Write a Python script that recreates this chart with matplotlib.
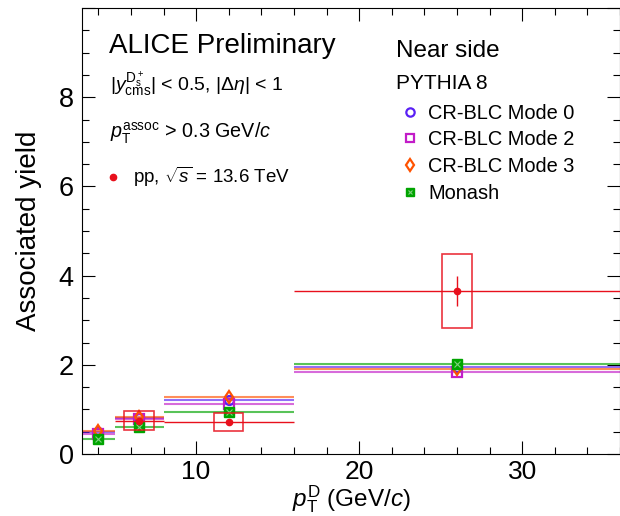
import numpy as np
import matplotlib.pyplot as plt
from matplotlib.patches import Rectangle
from matplotlib.ticker import MultipleLocator
from matplotlib.lines import Line2D

plt.rcParams['font.family'] = ['Liberation Sans', 'DejaVu Sans']
plt.rcParams['mathtext.fontset'] = 'custom'
plt.rcParams['mathtext.rm'] = 'Liberation Sans'
plt.rcParams['mathtext.it'] = 'Liberation Sans:italic'
plt.rcParams['mathtext.bf'] = 'Liberation Sans:bold'

# pT bins of the D meson (GeV/c)
pt_lo = np.array([3, 5, 8, 16])
pt_hi = np.array([5, 8, 16, 36])
pt_mid = (pt_lo + pt_hi) / 2
pt_err = (pt_hi - pt_lo) / 2

# data, pp 13.6 TeV (bins 2-4)
data_idx = [1, 2, 3]
data_y = np.array([0.75, 0.71, 3.65])
data_stat = np.array([0.03, 0.04, 0.33])
data_syst = np.array([0.22, 0.20, 0.83])

# PYTHIA 8 predictions
mode0 = np.array([0.49, 0.80, 1.20, 1.95])
mode2 = np.array([0.45, 0.78, 1.12, 1.84])
mode3 = np.array([0.52, 0.82, 1.28, 1.90])
monash = np.array([0.34, 0.60, 0.95, 2.01])

models = [
    ('CR-BLC Mode 0', mode0, '#5a20f5', 'o'),
    ('CR-BLC Mode 2', mode2, '#c21cc8', 's'),
    ('CR-BLC Mode 3', mode3, '#ff5200', 'd'),
    ('Monash', monash, '#00a400', 's'),
]

fig = plt.figure(figsize=(6.2, 5.16), dpi=100)
ax = fig.add_axes([82 / 620, 62 / 516, 538 / 620, 446 / 516])

handles = []
for name, vals, col, mk in models:
    ax.errorbar(pt_mid, vals, xerr=pt_err, fmt='none', ecolor=col,
                elinewidth=1.5, alpha=0.65, capsize=0, zorder=2)
    if name == 'Monash':
        ax.plot(pt_mid, vals, ls='none', marker='s', ms=7, mfc=col, mec=col, zorder=3)
        ax.plot(pt_mid, vals, ls='none', marker='x', ms=4, mec='#7fd07f', mew=0.8, zorder=4)
        h = (Line2D([], [], ls='none', marker='s', ms=6, mfc=col, mec=col),
             Line2D([], [], ls='none', marker='x', ms=3.5, mec='#7fd07f', mew=0.8))
    else:
        ax.plot(pt_mid, vals, ls='none', marker=mk, ms=6.5, mfc='none',
                mec=col, mew=1.6, zorder=3)
        h = Line2D([], [], ls='none', marker=mk, ms=6, mfc='none', mec=col, mew=1.6)
    handles.append(h)

# data
red = '#e8101c'
dx = pt_mid[data_idx]
for x, y, s in zip(dx, data_y, data_syst):
    ax.add_patch(Rectangle((x - 0.9, y - s), 1.8, 2 * s, fill=False,
                           ec=red, lw=1.2, alpha=0.85, zorder=5))
ax.errorbar(dx, data_y, xerr=pt_err[data_idx], fmt='none', ecolor=red,
            elinewidth=1.0, zorder=5)
ax.errorbar(dx, data_y, yerr=data_stat, fmt='o', color=red, ms=4.5,
            elinewidth=1.0, capsize=0, zorder=6)

ax.set_xlim(3, 36)
ax.set_ylim(0, 10)
ax.set_xticks([10, 20, 30])
ax.set_yticks([0, 2, 4, 6, 8, 10], ['0', '2', '4', '6', '8', ''])
ax.xaxis.set_minor_locator(MultipleLocator(2))
ax.yaxis.set_minor_locator(MultipleLocator(0.5))
ax.tick_params(which='both', direction='in', top=True, right=True, labelsize=19.5)
ax.tick_params(axis='x', labelsize=19)
ax.tick_params(which='major', length=9.5, width=0.8)
ax.tick_params(which='minor', length=5, width=0.8)
ax.tick_params(axis='x', pad=4)
ax.tick_params(axis='y', pad=6)
for sp in ax.spines.values():
    sp.set_linewidth(0.8)

ax.set_xlabel(r'$p_{\mathrm{T}}^{\mathrm{D}}$ (GeV/$c$)', fontsize=17.5, labelpad=0)
ax.set_ylabel('Associated yield', fontsize=20, labelpad=12)

ax.text(0.050, 0.915, 'ALICE Preliminary', transform=ax.transAxes,
        fontsize=20, va='center')
ax.text(0.052, 0.812, r'$|y_{\mathrm{cms}}^{\mathrm{D_s^+}}|$ < 0.5, $|\Delta\eta|$ < 1',
        transform=ax.transAxes, fontsize=14, va='baseline')
ax.text(0.052, 0.7085, r'$p_{\mathrm{T}}^{\mathrm{assoc}}$ > 0.3 GeV/$c$',
        transform=ax.transAxes, fontsize=14.2, va='baseline')
ax.text(0.584, 0.904, 'Near side', transform=ax.transAxes, fontsize=17.5, va='center')
ax.text(0.584, 0.83, 'PYTHIA 8', transform=ax.transAxes, fontsize=15, va='center')

leg1 = ax.legend(handles, [m[0] for m in models], loc='upper left',
                 bbox_to_anchor=(0.591, 0.785), frameon=False, fontsize=14.4,
                 handlelength=1.0, handletextpad=0.4, borderpad=0,
                 borderaxespad=0, labelspacing=0.38)
ax.add_artist(leg1)
dh = Line2D([], [], ls='none', marker='o', ms=4.5, color=red)
ax.legend([dh], [r'pp, $\sqrt{s}$ = 13.6 TeV'], loc='upper left',
          bbox_to_anchor=(0.043, 0.648), frameon=False, fontsize=13.5,
          handlelength=0.8, handletextpad=0.67, borderpad=0, borderaxespad=0)

fig.savefig('out.png', dpi=100)
